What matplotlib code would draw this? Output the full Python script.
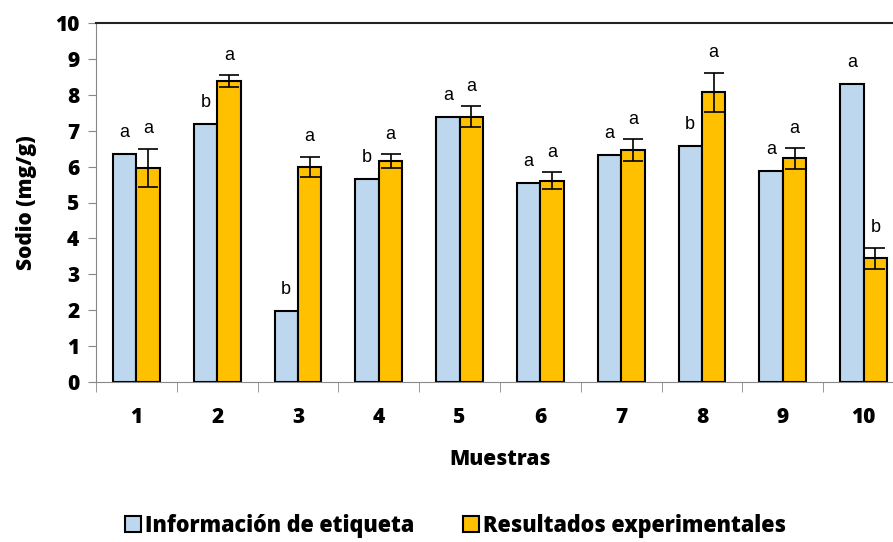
import matplotlib.pyplot as plt
import numpy as np

muestras = ["1", "2", "3", "4", "5", "6", "7", "8", "9", "10"]
etiqueta = [6.34, 7.19, 1.99, 5.65, 7.39, 5.53, 6.31, 6.58, 5.89, 8.31]
experimental = [5.97, 8.38, 6.00, 6.15, 7.39, 5.61, 6.46, 8.07, 6.23, 3.45]
error_exp = [0.53, 0.16, 0.28, 0.20, 0.29, 0.23, 0.30, 0.55, 0.29, 0.29]
letras_etiqueta = ["a", "b", "b", "b", "a", "a", "a", "b", "a", "a"]
letras_exp = ["a", "a", "a", "a", "a", "a", "a", "a", "a", "b"]

plt.rcParams["font.family"] = ["Open Sans", "DejaVu Sans"]
peso = 800

fig = plt.figure(figsize=(8.93, 5.42), dpi=100)
ax = fig.add_axes([96 / 893, 160 / 542, 808 / 893, 359 / 542])

x = np.arange(len(muestras))
w = 0.29
ax.bar(x - w / 2, etiqueta, w, color="#BDD7EE", edgecolor="black",
       linewidth=1.5, label="Información de etiqueta", zorder=2)
ax.bar(x + w / 2, experimental, w, color="#FFC000", edgecolor="black",
       linewidth=1.5, label="Resultados experimentales", zorder=2)
ax.errorbar(x + w / 2, experimental, yerr=error_exp, fmt="none",
            ecolor="black", elinewidth=1.2, capsize=7, capthick=1.2, zorder=3)

for i in range(len(muestras)):
    ax.text(x[i] - w / 2, etiqueta[i] + 0.6, letras_etiqueta[i],
            ha="center", va="center", fontsize=13, family="Liberation Sans")
    ax.text(x[i] + w / 2, experimental[i] + error_exp[i] + 0.55, letras_exp[i],
            ha="center", va="center", fontsize=13, family="Liberation Sans")

ax.set_xlim(-0.5, 9.5)
ax.set_ylim(0, 10)
ax.set_yticks(range(0, 11))
ax.set_yticklabels([str(v) for v in range(0, 11)], fontsize=15, fontweight=peso)
ax.set_xticks(x)
ax.set_xticklabels(muestras, fontsize=15, fontweight=peso)
ax.set_xticks(np.arange(-0.5, 10, 1), minor=True)
ax.tick_params(axis="x", which="major", length=0, pad=18)
ax.tick_params(axis="x", which="minor", length=7, color="#888888", direction="out")
ax.tick_params(axis="y", length=6, color="#888888", direction="out", pad=6)

ax.spines["right"].set_visible(False)
ax.spines["left"].set_color("#888888")
ax.spines["bottom"].set_color("#888888")
ax.spines["top"].set_color("#222222")
ax.spines["top"].set_linewidth(1.5)

ax.set_xlabel("Muestras", fontsize=15, fontweight=peso, labelpad=15)
ax.set_ylabel("Sodio (mg/g)", fontsize=15, fontweight=peso, labelpad=13)

fig.legend(loc="center", bbox_to_anchor=(0.51, 0.03), ncol=2, frameon=False,
           prop={"size": 15.5, "weight": peso}, handlelength=0.75,
           handleheight=0.75, columnspacing=2.3, handletextpad=0.15,
           borderaxespad=0, borderpad=0.1)

fig.savefig("out.png", dpi=100)
